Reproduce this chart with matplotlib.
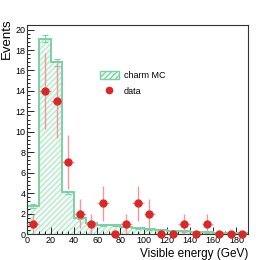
import numpy as np
import matplotlib.pyplot as plt
from matplotlib.patches import Patch
from matplotlib.lines import Line2D
from matplotlib.ticker import MultipleLocator

plt.rcParams['font.family'] = ['Liberation Sans', 'DejaVu Sans']

# binning (GeV)
bin_edges = np.arange(0, 200, 10)
bin_centers = bin_edges[:-1] + 5

# charm MC expectation
mc_vals = [2.7, 19.1, 16.8, 4.1, 1.6, 1.1, 0.9, 0.85, 0.7, 0.55, 0.45,
           0.35, 0.3, 0.25, 0.2, 0.15, 0.12, 0.1, 0.05]
mc_err = [0.2, 0.35, 0.35, 0.15, 0.1, 0.08, 0.07, 0.07, 0.06, 0.05, 0.05,
          0.04, 0.04, 0.03, 0.03, 0.03, 0.02, 0.02, 0.02]

# observed data
data_vals = [1, 14, 13, 7, 2, 1, 3, 0, 1, 3, 2, 0, 0, 1, 0, 1, 0, 0, 0]
data_err = np.sqrt(data_vals)

green = '#7fcfa6'
red = '#d62a2a'

fig = plt.figure(figsize=(2.76, 2.60), dpi=100)
ax = fig.add_axes([0.0996, 0.1, 0.799, 0.804])

# hatched MC histogram
ax.bar(bin_centers, mc_vals, width=10, facecolor='#f3fbf6', edgecolor='#bfe6d1',
       hatch='//////', linewidth=0, zorder=1)
ax.stairs(mc_vals, bin_edges, color=green, linewidth=1.4, zorder=2)
ax.errorbar(bin_centers, mc_vals, yerr=mc_err, fmt='none', ecolor=green,
            elinewidth=0.8, capsize=2, capthick=0.8, zorder=2)

# data points
ax.errorbar(bin_centers, data_vals, yerr=data_err, xerr=5, fmt='none',
            ecolor='#ee9a9a', elinewidth=1.0, zorder=3)
ax.plot(bin_centers, data_vals, 'o', color=red, markersize=5, zorder=4,
        clip_on=False)

ax.set_xlim(0, 190)
ax.set_ylim(0, 20.45)
ax.xaxis.set_major_locator(MultipleLocator(20))
ax.xaxis.set_minor_locator(MultipleLocator(5))
ax.yaxis.set_major_locator(MultipleLocator(2))
ax.yaxis.set_minor_locator(MultipleLocator(0.4))
ax.tick_params(which='both', direction='in', labelsize=6.5, pad=1.5, width=0.6)
ax.tick_params(which='major', length=5)
ax.tick_params(which='minor', length=2.5)
for s in ax.spines.values():
    s.set_linewidth(0.8)
    s.set_color('#333333')

ax.set_xlabel('Visible energy (GeV)', fontsize=8.5, loc='right')
ax.xaxis.set_label_coords(1.0, -0.066)
ax.set_ylabel('Events', fontsize=9.5, loc='top')
ax.yaxis.set_label_coords(-0.068, 1.033)

handles = [Patch(facecolor='#f3fbf6', edgecolor=green, hatch='//////', linewidth=1.0),
           Line2D([], [], marker='o', color=red, linestyle='none', markersize=4.5)]
ax.legend(handles, ['charm MC', 'data'], loc='upper left',
          bbox_to_anchor=(0.29, 0.82), frameon=False, fontsize=6.5,
          handlelength=2.2, handleheight=1.0, labelspacing=0.75, handletextpad=0.5)

fig.savefig('out.png', dpi=100)
